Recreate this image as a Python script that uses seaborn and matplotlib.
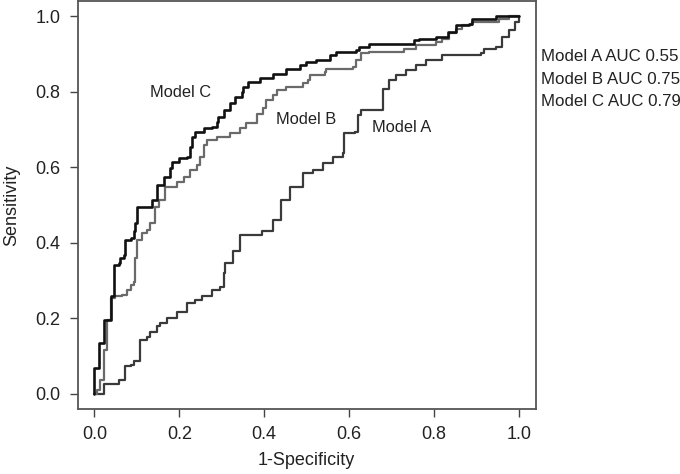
import matplotlib
matplotlib.use("Agg")
import matplotlib.pyplot as plt
import seaborn as sns
import pandas as pd

# ---- data ----
fpr_a = [0.0, 0.0, 0.022, 0.022, 0.053, 0.057, 0.073, 0.073, 0.085, 0.092, 0.108, 0.108, 0.124, 0.131,
         0.147, 0.155, 0.171, 0.194, 0.218, 0.237, 0.253, 0.276, 0.296, 0.304, 0.308, 0.327, 0.343, 0.394,
         0.421, 0.44, 0.46, 0.491, 0.515, 0.538, 0.562, 0.585, 0.589, 0.613, 0.62, 0.628, 0.675, 0.679,
         0.695, 0.711, 0.734, 0.757, 0.781, 0.82, 0.91, 0.918, 0.945, 0.961, 0.977, 0.992, 1.0]
tpr_a = [0.0, 0.0, 0.0, 0.025, 0.025, 0.038, 0.06, 0.073, 0.077, 0.086, 0.099, 0.143, 0.152, 0.165,
         0.179, 0.188, 0.2, 0.218, 0.24, 0.249, 0.258, 0.276, 0.284, 0.32, 0.346, 0.377, 0.421, 0.43,
         0.46, 0.513, 0.548, 0.584, 0.593, 0.61, 0.628, 0.637, 0.69, 0.694, 0.738, 0.751, 0.751, 0.808,
         0.83, 0.844, 0.857, 0.87, 0.883, 0.896, 0.901, 0.914, 0.918, 0.945, 0.963, 0.984, 1.0]

fpr_b = [0.0, 0.006, 0.014, 0.022, 0.03, 0.038, 0.049, 0.065, 0.077, 0.085, 0.092, 0.096, 0.096, 0.1,
         0.112, 0.124, 0.131, 0.143, 0.151, 0.167, 0.194, 0.21, 0.225, 0.241, 0.249, 0.257, 0.265, 0.288,
         0.319, 0.343, 0.358, 0.382, 0.397, 0.405, 0.421, 0.429, 0.452, 0.491, 0.503, 0.507, 0.542, 0.546,
         0.609, 0.617, 0.628, 0.648, 0.726, 0.73, 0.757, 0.804, 0.82, 0.836, 0.851, 0.867, 0.89, 0.937,
         0.953, 0.977, 1.0]
tpr_b = [0.0, 0.011, 0.038, 0.117, 0.196, 0.254, 0.258, 0.262, 0.276, 0.289, 0.297, 0.324, 0.359, 0.408,
         0.425, 0.434, 0.452, 0.496, 0.513, 0.548, 0.562, 0.575, 0.593, 0.606, 0.628, 0.659, 0.672, 0.681,
         0.69, 0.703, 0.716, 0.742, 0.756, 0.778, 0.791, 0.804, 0.813, 0.822, 0.83, 0.844, 0.852, 0.861,
         0.866, 0.883, 0.901, 0.905, 0.905, 0.914, 0.923, 0.932, 0.94, 0.954, 0.967, 0.976, 0.984, 0.984,
         0.993, 1.0, 1.0]

fpr_c = [0.0, 0.0, 0.006, 0.01, 0.018, 0.022, 0.03, 0.038, 0.045, 0.057, 0.061, 0.069, 0.073, 0.085,
         0.092, 0.096, 0.1, 0.131, 0.135, 0.147, 0.163, 0.178, 0.182, 0.198, 0.218, 0.225, 0.229, 0.237,
         0.257, 0.276, 0.288, 0.292, 0.304, 0.319, 0.331, 0.347, 0.35, 0.362, 0.39, 0.421, 0.452, 0.484,
         0.499, 0.523, 0.542, 0.554, 0.57, 0.617, 0.624, 0.648, 0.746, 0.753, 0.765, 0.804, 0.832, 0.851,
         0.883, 0.89, 0.937, 0.945, 1.0]
tpr_c = [0.0, 0.069, 0.069, 0.135, 0.135, 0.196, 0.196, 0.258, 0.342, 0.347, 0.359, 0.368, 0.408, 0.412,
         0.43, 0.452, 0.496, 0.496, 0.513, 0.553, 0.575, 0.597, 0.615, 0.624, 0.628, 0.654, 0.681, 0.694,
         0.703, 0.707, 0.72, 0.733, 0.751, 0.769, 0.786, 0.8, 0.813, 0.826, 0.835, 0.848, 0.861, 0.87,
         0.879, 0.883, 0.883, 0.896, 0.905, 0.909, 0.918, 0.927, 0.927, 0.936, 0.94, 0.945, 0.958, 0.976,
         0.98, 0.993, 0.993, 1.0, 1.0]

models = ["Model A", "Model B", "Model C"]
auc = ["0.55", "0.75", "0.79"]
x_ticks = [0.0, 0.2, 0.4, 0.6, 0.8, 1.0]
y_ticks = [0.0, 0.2, 0.4, 0.6, 0.8, 1.0]

# ---- plot ----
sns.set_theme(style="white")
plt.rcParams["font.family"] = ["Liberation Sans", "DejaVu Sans"]

fig = plt.figure(figsize=(6.8, 4.74), dpi=100)
ax = fig.add_axes([0.114, 0.137, 0.674, 0.861])

styles = {
    "Model A": dict(color="#3a3a3a", lw=1.6),
    "Model B": dict(color="#6a6a6a", lw=1.6),
    "Model C": dict(color="#111111", lw=1.9),
}
data = {"Model A": (fpr_a, tpr_a), "Model B": (fpr_b, tpr_b), "Model C": (fpr_c, tpr_c)}
for m in models:
    fx, fy = data[m]
    df = pd.DataFrame({"fpr": fx, "tpr": fy})
    sns.lineplot(data=df, x="fpr", y="tpr", sort=False, estimator=None, ax=ax,
                 drawstyle="steps-post", color=styles[m]["color"], linewidth=styles[m]["lw"])

ax.set_xlim(-0.04, 1.04)
ax.set_ylim(-0.04, 1.04)
ax.set_xticks(x_ticks)
ax.set_yticks(y_ticks)
ax.set_xticklabels([f"{t:.1f}" for t in x_ticks])
ax.set_yticklabels([f"{t:.1f}" for t in y_ticks])
ax.set_xlabel("1-Specificity", fontsize=13, color="#222222", labelpad=6)
ax.set_ylabel("Sensitivity", fontsize=13, color="#222222", labelpad=11)
ax.tick_params(axis="both", which="both", direction="out", length=5.5, width=1.0,
               color="#444444", labelsize=13, labelcolor="#222222", pad=7,
               bottom=True, left=True)
for s in ax.spines.values():
    s.set_color("#555555")
    s.set_linewidth(1.3)

# curve labels
ax.text(0.202, 0.799, "Model C", fontsize=11.8, color="#222222", ha="center", va="center")
ax.text(0.498, 0.725, "Model B", fontsize=11.8, color="#222222", ha="center", va="center")
ax.text(0.723, 0.704, "Model A", fontsize=11.8, color="#222222", ha="center", va="center")

# AUC legend text
for i, (m, a) in enumerate(zip(models, auc)):
    fig.text(0.796, 0.880 - i * 0.0475, f"{m} AUC {a}", fontsize=12.2, color="#222222",
             ha="left", va="center")

fig.savefig("out.png", dpi=100)
